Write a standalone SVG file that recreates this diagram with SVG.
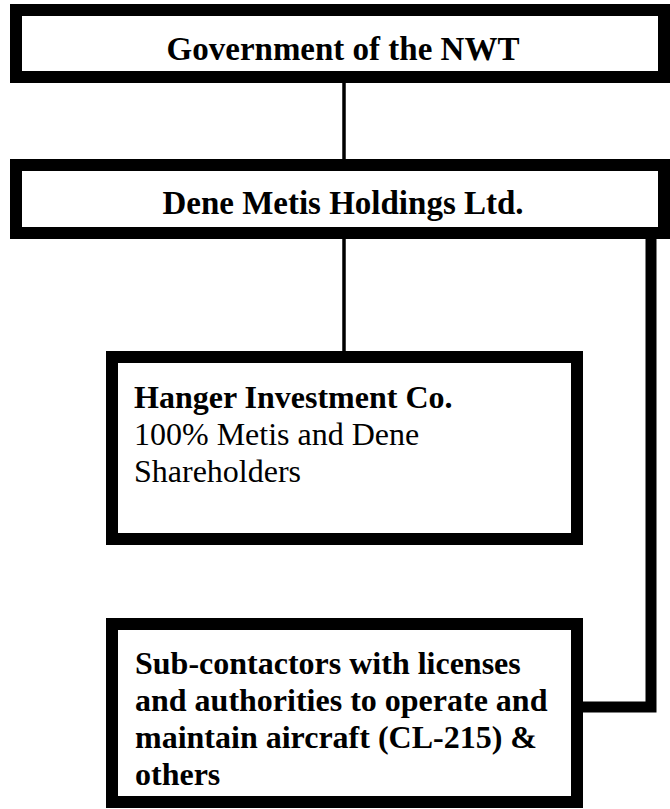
<svg xmlns="http://www.w3.org/2000/svg" width="670" height="809" viewBox="0 0 670 809">
<style>
.box{fill:#fff;stroke:#000;stroke-width:12;stroke-linejoin:miter}
.conn{fill:none;stroke:#000;stroke-linejoin:miter;stroke-linecap:butt}
.t{font-family:"Liberation Serif","Times New Roman",serif;fill:#000}
.b{font-weight:bold}
.title{font-size:33px;text-anchor:middle}
.body{font-size:32px}
</style>
<rect width="670" height="809" fill="#fff"/>
<g id="connectors">
<line class="conn" x1="344" y1="80" x2="344" y2="162" stroke-width="3.5"/>
<line class="conn" x1="344" y1="236" x2="344" y2="354" stroke-width="3.5"/>
<polyline class="conn" points="651,236 651,707 580,707" stroke-width="11"/>
</g>
<g id="gov">
<rect class="box" x="16" y="10" width="648" height="67"/>
<text class="t b title" x="343" y="60">Government of the NWT</text>
</g>
<g id="dene">
<rect class="box" x="16" y="165" width="648" height="68"/>
<text class="t b title" x="343" y="214">Dene Metis Holdings Ltd.</text>
</g>
<g id="hanger">
<rect class="box" x="112" y="357" width="465" height="182"/>
<text class="t body" x="134" y="408"><tspan class="b">Hanger Investment Co.</tspan><tspan x="134" y="445">100% Metis and Dene</tspan><tspan x="134" y="482">Shareholders</tspan></text>
</g>
<g id="subcontractors">
<rect class="box" x="112" y="624" width="465" height="178"/>
<text class="t b body" x="135" y="674">Sub-contactors with licenses<tspan x="135" y="711">and authorities to operate and</tspan><tspan x="135" y="748">maintain aircraft (CL-215) &amp;</tspan><tspan x="135" y="785">others</tspan></text>
</g>
</svg>
